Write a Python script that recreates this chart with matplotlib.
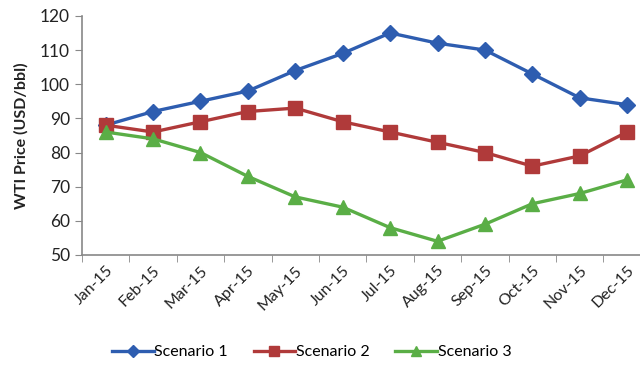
import matplotlib
matplotlib.use("Agg")
import matplotlib.pyplot as plt
import numpy as np

months = ["Jan-15", "Feb-15", "Mar-15", "Apr-15", "May-15", "Jun-15",
          "Jul-15", "Aug-15", "Sep-15", "Oct-15", "Nov-15", "Dec-15"]
scenario1 = [88, 92, 95, 98, 104, 109, 115, 112, 110, 103, 96, 94]
scenario2 = [88, 86, 89, 92, 93, 89, 86, 83, 80, 76, 79, 86]
scenario3 = [86, 84, 80, 73, 67, 64, 58, 54, 59, 65, 68, 72]

plt.rcParams["font.family"] = ["Lato", "DejaVu Sans"]

fig = plt.figure(figsize=(6.4, 3.69), dpi=100)
ax = fig.add_axes([0.128, 0.309, 0.889, 0.648])

x = np.arange(len(months))
ax.plot(x, scenario1, color="#2E5DB0", lw=2.4, marker="D", ms=8,
        label="Scenario 1")
ax.plot(x, scenario2, color="#B03A3A", lw=2.4, marker="s", ms=9.5,
        label="Scenario 2")
ax.plot(x, scenario3, color="#5AAE46", lw=2.4, marker="^", ms=10,
        label="Scenario 3")

ax.set_xlim(-0.5, len(months) - 0.5)
ax.set_ylim(50, 120)
ax.set_yticks(range(50, 121, 10))
ax.set_xticks(x)
ax.set_xticklabels(months, rotation=45, ha="right", rotation_mode="anchor",
                   fontsize=11.5, color="#222222")
ax.set_xticks(np.arange(-0.5, len(months) + 0.5, 1), minor=True)
ax.tick_params(axis="x", which="major", length=0, pad=6)
ax.tick_params(axis="x", which="minor", length=5, color="#888888",
               direction="out")
ax.tick_params(axis="y", length=5, color="#888888", labelsize=12.5,
               labelcolor="#222222")

for side in ("top", "right"):
    ax.spines[side].set_visible(False)
for side in ("left", "bottom"):
    ax.spines[side].set_color("#888888")
    ax.spines[side].set_linewidth(1.2)

ax.set_ylabel("WTI Price (USD/bbl)", fontsize=11.5, fontweight="bold",
              color="#222222", labelpad=8)

fig.legend(loc="center", bbox_to_anchor=(0.487, 0.045), ncol=3,
           frameon=False, fontsize=11.5, handlelength=2.6, columnspacing=1.6,
           handletextpad=0.05, markerscale=0.75)

fig.savefig("out.png", dpi=100)
